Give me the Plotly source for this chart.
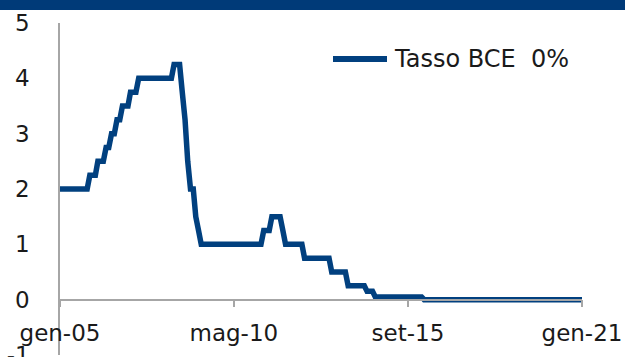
import pandas as pd
import plotly.graph_objects as go

# ECB main refinancing rate, monthly values (%), Jan 2005 - Jan 2021
rate_2005 = [2.00, 2.00, 2.00, 2.00, 2.00, 2.00, 2.00, 2.00, 2.00, 2.00, 2.00, 2.25]
rate_2006 = [2.25, 2.25, 2.50, 2.50, 2.50, 2.75, 2.75, 3.00, 3.00, 3.25, 3.25, 3.50]
rate_2007 = [3.50, 3.50, 3.75, 3.75, 3.75, 4.00, 4.00, 4.00, 4.00, 4.00, 4.00, 4.00]
rate_2008 = [4.00, 4.00, 4.00, 4.00, 4.00, 4.00, 4.25, 4.25, 4.25, 3.75, 3.25, 2.50]
rate_2009 = [2.00, 2.00, 1.50, 1.25, 1.00, 1.00, 1.00, 1.00, 1.00, 1.00, 1.00, 1.00]
rate_2010 = [1.00, 1.00, 1.00, 1.00, 1.00, 1.00, 1.00, 1.00, 1.00, 1.00, 1.00, 1.00]
rate_2011 = [1.00, 1.00, 1.00, 1.25, 1.25, 1.25, 1.50, 1.50, 1.50, 1.50, 1.25, 1.00]
rate_2012 = [1.00, 1.00, 1.00, 1.00, 1.00, 1.00, 0.75, 0.75, 0.75, 0.75, 0.75, 0.75]
rate_2013 = [0.75, 0.75, 0.75, 0.75, 0.50, 0.50, 0.50, 0.50, 0.50, 0.50, 0.25, 0.25]
rate_2014 = [0.25, 0.25, 0.25, 0.25, 0.25, 0.15, 0.15, 0.15, 0.05, 0.05, 0.05, 0.05]
rate_2015 = [0.05, 0.05, 0.05, 0.05, 0.05, 0.05, 0.05, 0.05, 0.05, 0.05, 0.05, 0.05]
rate_2016 = [0.05, 0.05, 0.00, 0.00, 0.00, 0.00, 0.00, 0.00, 0.00, 0.00, 0.00, 0.00]
rate_2017 = [0.00, 0.00, 0.00, 0.00, 0.00, 0.00, 0.00, 0.00, 0.00, 0.00, 0.00, 0.00]
rate_2018 = [0.00, 0.00, 0.00, 0.00, 0.00, 0.00, 0.00, 0.00, 0.00, 0.00, 0.00, 0.00]
rate_2019 = [0.00, 0.00, 0.00, 0.00, 0.00, 0.00, 0.00, 0.00, 0.00, 0.00, 0.00, 0.00]
rate_2020 = [0.00, 0.00, 0.00, 0.00, 0.00, 0.00, 0.00, 0.00, 0.00, 0.00, 0.00, 0.00]
rate_2021 = [0.00]

series_name = "Tasso BCE  0%"
tick_dates = ["2005-01-01", "2010-05-01", "2015-09-01", "2021-01-01"]
tick_labels = ["gen-05", "mag-10", "set-15", "gen-21"]
y_ticks = [-1, 0, 1, 2, 3, 4, 5]
y_labels = ["-1", "0", "1", "2", "3", "4", "5"]

rates = (rate_2005 + rate_2006 + rate_2007 + rate_2008 + rate_2009 + rate_2010
         + rate_2011 + rate_2012 + rate_2013 + rate_2014 + rate_2015 + rate_2016
         + rate_2017 + rate_2018 + rate_2019 + rate_2020 + rate_2021)
months = pd.date_range("2005-01-01", periods=len(rates), freq="MS")

LINE = "#01407f"
BAR = "#003a78"
AXIS = "#a6a6a6"
TEXT = "#1a1a1a"
FONT = "DejaVu Sans"

W, H = 625, 357
ML, MR, MT, MB = 60, 43, 23, 2
plot_w = W - ML - MR
plot_h = H - MT - MB


def px_x(p):
    return (p - ML) / plot_w


def px_y(p):
    return 1 - (p - MT) / plot_h


fig = go.Figure()
fig.add_trace(go.Scatter(
    x=months, y=rates, mode="lines", name=series_name,
    line=dict(color=LINE, width=5.5), showlegend=False,
))

y_min, y_max = -1, 5
fig.update_layout(
    width=W, height=H,
    margin=dict(l=ML, r=MR, t=MT, b=MB, pad=0),
    paper_bgcolor="white", plot_bgcolor="white",
    font=dict(family=FONT, color=TEXT, size=23),
    xaxis=dict(
        type="date", range=[tick_dates[0], tick_dates[-1]],
        anchor="free", position=(0 - y_min) / (y_max - y_min),
        showline=True, linecolor=AXIS, linewidth=1.5,
        ticks="outside", ticklen=7, tickwidth=1.5, tickcolor=AXIS,
        tickvals=tick_dates, ticktext=tick_labels,
        tickfont=dict(size=23, color=TEXT),
        ticklabelstandoff=6, ticklabeloverflow="allow",
        showgrid=False, zeroline=False, automargin=False,
    ),
    yaxis=dict(
        range=[y_min, y_max],
        showline=True, linecolor=AXIS, linewidth=1.5,
        ticks="", tickvals=y_ticks, ticktext=y_labels,
        tickfont=dict(size=23, color=TEXT),
        ticklabelstandoff=24, ticklabeloverflow="allow",
        showgrid=False, zeroline=False, automargin=False,
    ),
)

# header band across the top edge
fig.add_shape(type="rect", xref="paper", yref="paper",
              x0=px_x(-5), x1=px_x(W + 5), y0=px_y(10), y1=px_y(-5),
              fillcolor=BAR, line=dict(width=0), layer="above")

# legend key
fig.add_shape(type="line", xref="paper", yref="paper",
              x0=px_x(333), x1=px_x(387), y0=px_y(59), y1=px_y(59),
              line=dict(color=LINE, width=6))
fig.add_annotation(x=px_x(392), y=px_y(59), xref="paper", yref="paper",
                   text=series_name, showarrow=False,
                   xanchor="left", yanchor="middle",
                   font=dict(family=FONT, size=24, color=TEXT))

fig.write_html("out.html")
